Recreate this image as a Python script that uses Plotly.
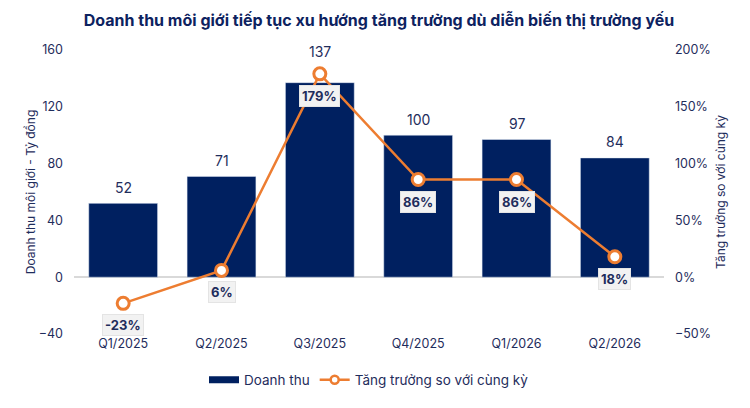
import plotly.graph_objects as go

# data
quarters = ["Q1/2025", "Q2/2025", "Q3/2025", "Q4/2025", "Q1/2026", "Q2/2026"]
revenue = [52, 71, 137, 100, 97, 84]          # ty dong
growth_pct = [-23, 6, 179, 86, 86, 18]        # % so voi cung ky

navy = "#002060"
orange = "#ED7D31"
text_col = "#1F2D5C"

fig = go.Figure()

fig.add_trace(go.Bar(
    x=quarters, y=revenue, name="Doanh thu",
    marker=dict(color=navy), showlegend=False,
))

fig.add_trace(go.Scatter(
    x=quarters, y=growth_pct, name="Tăng trưởng so với cùng kỳ",
    yaxis="y2", mode="lines+markers", showlegend=False,
    line=dict(color=orange, width=2.5),
    marker=dict(symbol="circle", size=12, color="white",
                line=dict(color=orange, width=3)),
    cliponaxis=False,
))

# legend-only entries (flat bar key, small marker on the line key)
fig.add_trace(go.Scatter(
    x=[None], y=[None], name="Doanh thu", mode="lines",
    line=dict(color=navy, width=7),
))
fig.add_trace(go.Scatter(
    x=[None], y=[None], name="Tăng trưởng so với cùng kỳ", mode="lines+markers",
    line=dict(color=orange, width=2.5),
    marker=dict(symbol="circle", size=8, color="white",
                line=dict(color=orange, width=2.5)),
))

# bar value labels (the Q3 one sits above the growth marker)
for q, v in zip(quarters, revenue):
    fig.add_annotation(
        x=q, y=v, xref="x", yref="y", text=str(v), showarrow=False,
        yshift=31 if q == "Q3/2025" else 16,
        font=dict(color=text_col, size=14),
    )

# percentage labels in light boxes under each point
for q, g in zip(quarters, growth_pct):
    fig.add_annotation(
        x=q, y=g, xref="x", yref="y2",
        text=f"<b>{g}%</b>", showarrow=False, yshift=-22,
        font=dict(color=text_col, size=13),
        bgcolor="#F2F2F2", bordercolor="#E4E4E4", borderwidth=1, borderpad=2,
    )

# page body adds an 8px offset, so the figure is drawn 742x400
fig.update_layout(
    width=742, height=400,
    paper_bgcolor="white", plot_bgcolor="white",
    font=dict(family="Inter", color=text_col, size=13),
    title=dict(text="<b>Doanh thu môi giới tiếp tục xu hướng tăng trưởng dù diễn biến thị trường yếu</b>",
               x=0.5, xanchor="center", y=0.97, yanchor="middle",
               font=dict(size=16, color="#0D2260")),
    margin=dict(l=66, r=86, t=42, b=70),
    bargap=0.3,
    showlegend=True,
    legend=dict(orientation="h", x=0.5, xanchor="center", y=-0.162, yanchor="middle",
                font=dict(size=13.5, color=text_col)),
    xaxis=dict(showgrid=False, showline=False, ticks="", automargin=False,
               tickfont=dict(size=12.5, color=text_col)),
    yaxis=dict(range=[-40, 160], dtick=40, showgrid=False, zeroline=True,
               zerolinecolor="#D9D9D9", zerolinewidth=1.5, automargin=False,
               ticklabelstandoff=10,
               tickfont=dict(size=12.5, color=text_col),
               title=dict(text="Doanh thu môi giới - Tỷ đồng", standoff=0,
                          font=dict(size=12, color=text_col))),
    yaxis2=dict(range=[-50, 200], dtick=50, ticksuffix="%", overlaying="y",
                side="right", showgrid=False, zeroline=False, automargin=False,
                ticklabelstandoff=10,
                tickfont=dict(size=12.5, color=text_col),
                title=dict(text="Tăng trưởng so với cùng kỳ", standoff=6,
                           font=dict(size=12, color=text_col))),
)

fig.write_html("out.html")
